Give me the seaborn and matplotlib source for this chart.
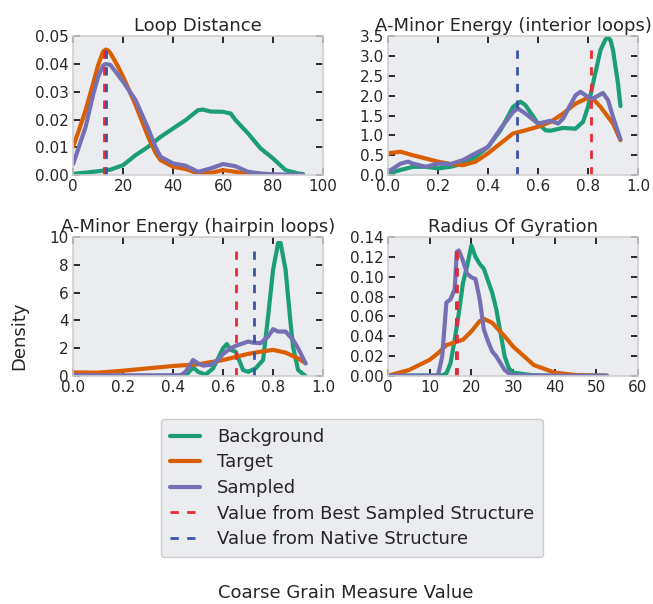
import matplotlib
matplotlib.use("Agg")
import matplotlib.pyplot as plt
import seaborn as sns
import numpy as np

# ---------------- data ----------------
series_names = ["Background", "Target", "Sampled"]
vline_names = ["Value from Best Sampled Structure", "Value from Native Structure"]
titles = ["Loop Distance", "A-Minor Energy (interior loops)",
          "A-Minor Energy (hairpin loops)", "Radius Of Gyration"]

# Loop Distance
loop_bg_x = [0, 5, 10, 15, 20, 25, 30, 35, 40, 45, 50, 52, 55, 60, 63, 65, 70, 75, 80, 85, 90, 92]
loop_bg_y = [0.0005, 0.0009, 0.0014, 0.002, 0.0036, 0.0072, 0.0102, 0.0138, 0.0168, 0.0198,
             0.0234, 0.0236, 0.0229, 0.0228, 0.0222, 0.0198, 0.015, 0.0096, 0.006, 0.0018, 0.0006, 0.0004]
loop_tg_x = [0, 3, 5, 8, 10, 12, 13, 14, 15, 18, 20, 25, 30, 33, 35, 40, 45, 50, 55, 60, 65, 70, 75]
loop_tg_y = [0.0102, 0.018, 0.0234, 0.033, 0.0396, 0.0445, 0.0452, 0.0449, 0.0438, 0.039, 0.0354,
             0.0252, 0.0138, 0.008, 0.0054, 0.003, 0.0022, 0.0006, 0.0008, 0.0018, 0.0012, 0.0002, 0.0]
loop_sp_x = [0, 3, 5, 8, 10, 12, 13, 14, 15, 18, 20, 25, 30, 33, 35, 40, 45, 50, 55, 60, 65, 70,
             75, 80, 85, 92]
loop_sp_y = [0.004, 0.012, 0.0174, 0.029, 0.0354, 0.0395, 0.0400, 0.0399, 0.0396, 0.036, 0.0336,
             0.027, 0.0168, 0.010, 0.0066, 0.0042, 0.0034, 0.0012, 0.0024, 0.004, 0.0032, 0.0012,
             0.0006, 0.0003, 0.0002, 0.0001]
loop_best, loop_native = 12.4, 13.2

# A-Minor Energy (interior loops)
int_bg_x = [0, 0.05, 0.1, 0.15, 0.2, 0.25, 0.3, 0.35, 0.4, 0.45, 0.5, 0.53, 0.55, 0.6, 0.63,
            0.65, 0.7, 0.75, 0.78, 0.8, 0.82, 0.85, 0.87, 0.88, 0.89, 0.9, 0.92, 0.93]
int_bg_y = [0.04, 0.13, 0.21, 0.21, 0.17, 0.21, 0.29, 0.46, 0.71, 1.13, 1.72, 1.85, 1.76, 1.30,
            1.13, 1.12, 1.19, 1.17, 1.34, 1.72, 2.31, 3.15, 3.42, 3.47, 3.40, 3.15, 2.31, 1.74]
int_tg_x = [0, 0.05, 0.1, 0.15, 0.2, 0.25, 0.3, 0.35, 0.4, 0.45, 0.5, 0.55, 0.6, 0.65, 0.7,
            0.75, 0.8, 0.82, 0.85, 0.9, 0.93]
int_tg_y = [0.55, 0.59, 0.50, 0.42, 0.34, 0.28, 0.25, 0.34, 0.55, 0.80, 1.05, 1.13, 1.22, 1.34,
            1.55, 1.80, 1.95, 1.93, 1.72, 1.30, 0.88]
int_sp_x = [0, 0.05, 0.08, 0.1, 0.15, 0.2, 0.25, 0.3, 0.35, 0.4, 0.45, 0.5, 0.52, 0.55, 0.6,
            0.65, 0.68, 0.7, 0.75, 0.77, 0.8, 0.82, 0.86, 0.88, 0.9, 0.93]
int_sp_y = [0.08, 0.29, 0.34, 0.29, 0.21, 0.29, 0.28, 0.38, 0.55, 0.71, 1.17, 1.59, 1.68, 1.55,
            1.30, 1.37, 1.30, 1.42, 2.01, 2.10, 1.97, 1.93, 2.07, 1.89, 1.47, 0.90]
int_best, int_native = 0.813, 0.516

# A-Minor Energy (hairpin loops)
hp_bg_x = [0, 0.1, 0.2, 0.3, 0.4, 0.45, 0.48, 0.5, 0.53, 0.56, 0.6, 0.615, 0.63, 0.65, 0.68,
           0.7, 0.73, 0.76, 0.78, 0.8, 0.82, 0.83, 0.85, 0.87, 0.88, 0.9, 0.93]
hp_bg_y = [0.0, 0.0, 0.0, 0.0, 0.0, 0.02, 0.62, 0.30, 0.10, 0.55, 2.0, 2.3, 1.88, 1.75, 0.43,
           0.30, 0.55, 1.15, 4.28, 7.64, 9.57, 9.57, 7.64, 3.8, 2.1, 0.43, 0.0]
hp_tg_x = [0, 0.1, 0.2, 0.3, 0.4, 0.5, 0.6, 0.7, 0.75, 0.8, 0.85, 0.9, 0.93]
hp_tg_y = [0.26, 0.24, 0.38, 0.55, 0.72, 0.84, 1.15, 1.59, 1.75, 1.88, 1.68, 1.27, 0.91]
hp_sp_x = [0, 0.1, 0.2, 0.3, 0.43, 0.45, 0.48, 0.5, 0.52, 0.55, 0.58, 0.6, 0.63, 0.65, 0.7,
           0.72, 0.75, 0.78, 0.8, 0.82, 0.85, 0.88, 0.9, 0.93]
hp_sp_y = [0.05, 0.05, 0.05, 0.05, 0.05, 0.3, 1.15, 0.9, 0.75, 0.8, 1.15, 1.59, 2.0, 2.16, 2.48,
           2.40, 2.36, 2.84, 3.37, 3.2, 3.2, 2.6, 2.0, 0.91]
hp_best, hp_native = 0.65, 0.723

# Radius Of Gyration
rg_bg_x = [0, 5, 10, 13, 14, 15, 16, 17, 18, 19, 20, 21, 22, 23, 24, 25, 26, 27, 28, 29, 30,
           35, 40, 45, 52.5]
rg_bg_y = [0.0005, 0.0005, 0.0005, 0.0006, 0.0027, 0.013, 0.0366, 0.0637, 0.094, 0.111, 0.1315,
           0.12, 0.113, 0.108, 0.096, 0.084, 0.067, 0.0434, 0.0197, 0.0078, 0.0034, 0.0006,
           0.0004, 0.0004, 0.0004]
rg_tg_x = [0, 5, 10, 12, 14, 16, 18, 20, 22, 23, 25, 28, 30, 35, 40, 45, 50, 52.5]
rg_tg_y = [0.0003, 0.006, 0.0163, 0.023, 0.031, 0.034, 0.0366, 0.045, 0.0553, 0.0576, 0.0536,
           0.040, 0.0298, 0.011, 0.0034, 0.001, 0.0003, 0.0002]
rg_sp_x = [0, 5, 10, 12, 13, 14, 15, 16, 16.5, 17, 18, 19, 20, 21, 22, 23, 24, 25, 26, 27, 28,
           29, 30, 40, 52.5]
rg_sp_y = [0.0003, 0.0003, 0.0003, 0.0006, 0.0197, 0.074, 0.0773, 0.0875, 0.125, 0.1265, 0.116,
           0.103, 0.0995, 0.0977, 0.0773, 0.0467, 0.0349, 0.0248, 0.0197, 0.0129, 0.006, 0.0027,
           0.0008, 0.0003, 0.0003]
rg_best, rg_native = 16.6, 16.3

panels = [
    (loop_bg_x, loop_bg_y, loop_tg_x, loop_tg_y, loop_sp_x, loop_sp_y, loop_best, loop_native),
    (int_bg_x, int_bg_y, int_tg_x, int_tg_y, int_sp_x, int_sp_y, int_best, int_native),
    (hp_bg_x, hp_bg_y, hp_tg_x, hp_tg_y, hp_sp_x, hp_sp_y, hp_best, hp_native),
    (rg_bg_x, rg_bg_y, rg_tg_x, rg_tg_y, rg_sp_x, rg_sp_y, rg_best, rg_native),
]
xlims = [(0, 100), (0, 1.0), (0, 1.0), (0, 60)]
ylims = [(0, 0.05), (0, 3.5), (0, 10), (0, 0.14)]
xticks = [np.arange(0, 101, 20), np.arange(0, 1.01, 0.2), np.arange(0, 1.01, 0.2), np.arange(0, 61, 10)]
yticks = [np.arange(0, 0.0501, 0.01), np.arange(0, 3.51, 0.5), np.arange(0, 10.1, 2),
          np.arange(0, 0.1401, 0.02)]

# ---------------- style ----------------
face = "#EBECEF"
txt = "#262626"
sns.set_style("white", {
    "axes.facecolor": face,
    "axes.edgecolor": "#CFCFCF",
})
plt.rcParams["font.family"] = ["DejaVu Sans"]

c_bg, c_tg, c_sp = "#1b9e77", "#d95f02", "#7570b3"
c_best, c_nat = "#ec2a35", "#3a55a8"

fig, axes = plt.subplots(2, 2, figsize=(6.53, 6.04), dpi=100)
fig.subplots_adjust(left=0.112, right=0.977, top=0.940, bottom=0.3775, hspace=0.446, wspace=0.26)

for i, ax in enumerate(axes.flat):
    bx, by, tx, ty, sx, sy, best, nat = panels[i]
    sns.lineplot(x=bx, y=by, ax=ax, color=c_bg, lw=3, label=series_names[0])
    sns.lineplot(x=tx, y=ty, ax=ax, color=c_tg, lw=3, label=series_names[1])
    sns.lineplot(x=sx, y=sy, ax=ax, color=c_sp, lw=3, label=series_names[2])
    if i == 3:
        ax.axvline(nat, ymax=0.96, color=c_nat, lw=2, dashes=(3, 3), label=vline_names[1])
        ax.axvline(best, ymax=0.96, color=c_best, lw=2, dashes=(3, 3), label=vline_names[0])
    else:
        ax.axvline(best, ymax=0.96, color=c_best, lw=2, dashes=(3, 3), label=vline_names[0])
        ax.axvline(nat, ymax=0.96, color=c_nat, lw=2, dashes=(3, 3), label=vline_names[1])
    ax.set_xlim(*xlims[i])
    ax.set_ylim(*ylims[i])
    ax.set_xticks(xticks[i])
    ax.set_yticks(yticks[i])
    ax.set_title(titles[i], fontsize=13, pad=4, color=txt)
    ax.set_xlabel("")
    ax.set_ylabel("")
    for s in ax.spines.values():
        s.set_color("#CFCFCF")
        s.set_linewidth(1.2)
    if ax.get_legend() is not None:
        ax.get_legend().remove()
    ax.tick_params(axis="both", which="major", direction="in", length=5, width=1.3,
                   top=True, right=True, bottom=True, left=True,
                   color="#1a1a1a", labelcolor=txt, labelsize=11, pad=3)

handles, labels = axes.flat[0].get_legend_handles_labels()
order = [series_names[0], series_names[1], series_names[2], vline_names[0], vline_names[1]]
hmap = dict(zip(labels, handles))
leg = fig.legend([hmap[k] for k in order], order, loc="upper center",
                 bbox_to_anchor=(0.539, 0.3215), fontsize=13, frameon=True, fancybox=True,
                 facecolor=face, edgecolor="#CFCFCF", framealpha=1,
                 handlelength=1.65, handletextpad=0.95, labelspacing=0.42, borderpad=0.5)
for t in leg.get_texts():
    t.set_color(txt)

fig.text(0.529, 0.018, "Coarse Grain Measure Value", ha="center", va="center",
         fontsize=13, color=txt)
fig.text(0.029, 0.444, "Density", ha="center", va="center", rotation=90,
         fontsize=13, color=txt)

fig.savefig("out.png", dpi=100)
